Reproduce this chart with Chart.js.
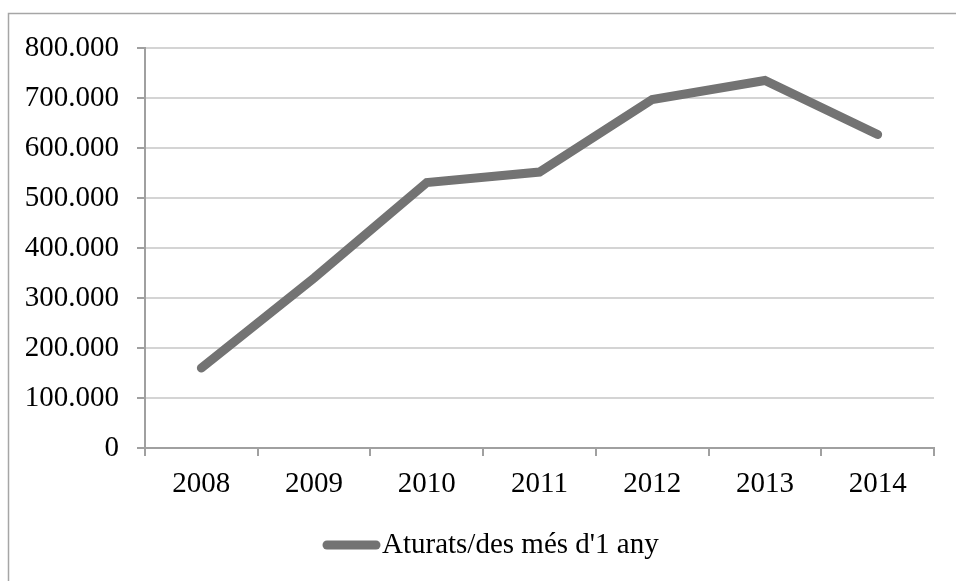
<!DOCTYPE html>
<html>
<head>
<meta charset="utf-8">
<script src="https://cdn.jsdelivr.net/npm/chart.js@4/dist/chart.umd.min.js"></script>
<style>
  html, body { margin: 0; padding: 0; background: #fff; }
  #wrap { width: 956px; height: 581px; }
</style>
</head>
<body>
<div id="wrap"><canvas id="aturatsChart" width="956" height="581"></canvas></div>
<script>
// Dades: aturats/des de llarga durada (més d'1 any)
const anys = ['2008', '2009', '2010', '2011', '2012', '2013', '2014'];
const aturats = [160000, 340000, 531000, 552000, 697000, 735000, 627000];
const etiquetesY = ['0', '100.000', '200.000', '300.000', '400.000', '500.000', '600.000', '700.000', '800.000'];

const fontSerif = { family: '"Liberation Serif", "DejaVu Serif", serif', size: 29 };

// marc del gràfic (vora esquerra i superior)
const marc = {
    id: 'marc',
    beforeDraw(chart) {
        const c = chart.ctx;
        c.save();
        c.strokeStyle = '#a6a6a6';
        c.lineWidth = 1.5;
        c.beginPath();
        c.moveTo(8.5, 581);
        c.lineTo(8.5, 13.5);
        c.lineTo(956, 13.5);
        c.stroke();
        c.restore();
    }
};

// llegenda a mà: la línia enganxada al text com a l'original
const llegenda = {
    id: 'llegenda',
    afterDraw(chart) {
        const ds = chart.data.datasets[0];
        const c = chart.ctx;
        const y = 545;
        c.save();
        c.strokeStyle = ds.borderColor;
        c.lineWidth = ds.borderWidth;
        c.lineCap = 'round';
        c.beginPath();
        c.moveTo(327, y);
        c.lineTo(376, y);
        c.stroke();
        c.fillStyle = '#000';
        c.font = fontSerif.size + 'px ' + fontSerif.family;
        c.textBaseline = 'middle';
        c.textAlign = 'left';
        c.fillText(ds.label, 382, y);
        c.restore();
    }
};

const ctx = document.getElementById('aturatsChart').getContext('2d');
const aturatsChart = new Chart(ctx, {
    type: 'line',
    data: {
        labels: anys,
        datasets: [{
            label: "Aturats/des més d'1 any",
            data: aturats,
            borderColor: '#737373',
            backgroundColor: '#737373',
            borderWidth: 9,
            borderCapStyle: 'round',
            borderJoinStyle: 'miter',
            pointRadius: 0,
            tension: 0
        }]
    },
    options: {
        responsive: false,
        animation: false,
        layout: {
            padding: { left: 0, top: 48, right: 22, bottom: 60 }
        },
        plugins: {
            tooltip: { enabled: false },
            legend: { display: false }
        },
        scales: {
            x: {
                offset: true,
                grid: {
                    offset: true,
                    drawOnChartArea: false,
                    drawTicks: true,
                    tickLength: 8,
                    tickColor: '#a0a0a0',
                    lineWidth: 2
                },
                border: { display: true, color: '#a0a0a0', width: 2 },
                ticks: { color: '#000', font: fontSerif, padding: 11, maxRotation: 0 },
                afterFit(scale) { scale.height = 73; }
            },
            y: {
                min: 0,
                max: 800000,
                grid: {
                    color: '#d4d4d4',
                    lineWidth: 2,
                    drawTicks: true,
                    tickLength: 8,
                    tickColor: '#a0a0a0'
                },
                border: { display: true, color: '#a0a0a0', width: 2 },
                ticks: {
                    stepSize: 100000,
                    color: '#000',
                    font: fontSerif,
                    padding: 18,
                    callback: (v, i) => etiquetesY[i]
                },
                afterFit(scale) { scale.width = 145; }
            }
        }
    },
    plugins: [marc, llegenda]
});
</script>
</body>
</html>
